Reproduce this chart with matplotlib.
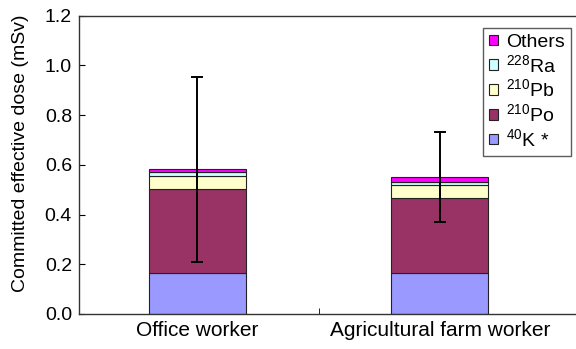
import numpy as np
import matplotlib
matplotlib.use("Agg")
import matplotlib.pyplot as plt

plt.rcParams['font.family'] = ['Liberation Sans', 'DejaVu Sans']
plt.rcParams['mathtext.fontset'] = 'custom'
plt.rcParams['mathtext.rm'] = 'Liberation Sans'
plt.rcParams['mathtext.it'] = 'Liberation Sans:italic'

# data (mSv)
groups = ['Office worker', 'Agricultural farm worker']
k40 = [0.166, 0.166]
po210 = [0.337, 0.302]
pb210 = [0.053, 0.050]
ra228 = [0.014, 0.012]
others = [0.013, 0.020]
err = [0.372, 0.181]

labels = [r'$^{40}$K *', r'$^{210}$Po', r'$^{210}$Pb', r'$^{228}$Ra', 'Others']
colors = ['#9999FF', '#993366', '#FFFFCC', '#CCFFFF', '#FF00FF']

fig = plt.figure(figsize=(5.76, 3.49), dpi=100)
ax = fig.add_axes([0.137, 0.1003, 0.863, 0.855])

x = np.arange(len(groups))
bottom = np.zeros(len(groups))
handles = []
for vals, lab, col in zip([k40, po210, pb210, ra228, others], labels, colors):
    b = ax.bar(x, vals, width=0.4, bottom=bottom, color=col, edgecolor='#222222',
               linewidth=0.8, label=lab, zorder=2)
    handles.append(b)
    bottom = bottom + np.array(vals)

ax.errorbar(x, bottom, yerr=err, fmt='none', ecolor='black', elinewidth=1.4,
            capsize=4, capthick=1.4, zorder=3)

ax.set_xlim(-0.489, 1.561)
ax.set_ylim(0, 1.2)
ax.set_yticks(np.arange(0, 1.21, 0.2))
ax.set_yticklabels(['%.1f' % v for v in np.arange(0, 1.21, 0.2)], fontsize=14)
ax.set_xticks(x)
ax.set_xticklabels(groups, fontsize=15)
ax.set_xticks([0.5], minor=True)
ax.tick_params(axis='x', which='major', length=0, pad=5)
ax.tick_params(axis='x', which='minor', direction='in', length=4)
ax.tick_params(axis='y', direction='in', length=4, pad=5)
ax.set_ylabel('Committed effective dose (mSv)', fontsize=14)
ax.yaxis.set_label_coords(-0.1, 0.54)
ax.spines['right'].set_visible(False)
for s in ['left', 'bottom', 'top']:
    ax.spines[s].set_color('#333333')
    ax.spines[s].set_linewidth(1.0)

leg = ax.legend(handles[::-1], labels[::-1], loc='upper right',
                bbox_to_anchor=(571 / 576, (349 - 28) / 349),
                bbox_transform=fig.transFigure, fontsize=14, frameon=True,
                fancybox=False, edgecolor='#333333', handlelength=0.45,
                handleheight=0.45, handletextpad=0.45, labelspacing=0.15,
                borderpad=0.3, borderaxespad=0)
leg.get_frame().set_linewidth(1.0)

fig.savefig('out.png', dpi=100)
